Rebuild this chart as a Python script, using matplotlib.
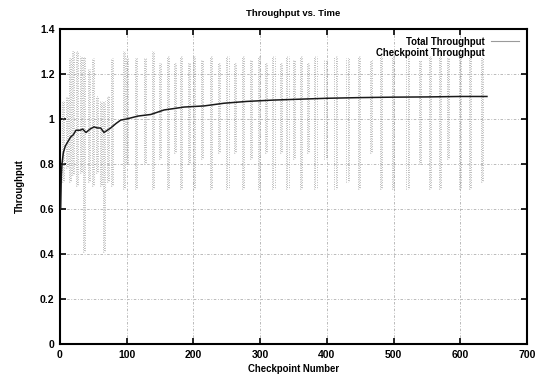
import matplotlib
matplotlib.use("Agg")
import matplotlib.pyplot as plt
from matplotlib.lines import Line2D

plt.rcParams['font.family'] = ['Liberation Sans', 'DejaVu Sans']

# Total throughput (running average)
total_x = [1, 2, 3, 5, 8, 12, 16, 20, 24, 30, 34, 39, 45, 51, 56, 61, 66, 71, 76, 84, 91, 100,
           117, 136, 156, 186, 216, 246, 280, 320, 360, 400, 450, 500, 550, 600, 640]
total_y = [0.60, 0.75, 0.80, 0.85, 0.88, 0.90, 0.92, 0.93, 0.95, 0.95, 0.955, 0.94, 0.955, 0.965,
           0.96, 0.96, 0.94, 0.95, 0.96, 0.98, 0.995, 1.00, 1.013, 1.02, 1.04, 1.053, 1.058, 1.07,
           1.078, 1.084, 1.088, 1.092, 1.095, 1.097, 1.098, 1.10, 1.10]

# Checkpoint throughput: vertical spread of per-checkpoint samples
stripe_x = [5, 10, 15, 20, 26, 31, 36, 43, 49, 56, 61, 66, 72, 78, 96, 101, 114, 128, 139, 150,
            162, 172, 181, 193, 201, 213, 226, 238, 251, 262, 274, 286, 298, 309, 320, 331, 341,
            351, 361, 372, 383, 398, 413, 431, 448, 466, 481, 499, 521, 540, 555, 570, 581, 600,
            615, 633]
stripe_lo = [0.72, 0.78, 0.72, 0.75, 0.70, 0.76, 0.41, 0.72, 0.70, 0.76, 0.70, 0.41, 0.72, 0.70,
             0.69, 0.80, 0.69, 0.80, 0.69, 0.82, 0.69, 0.85, 0.69, 0.80, 0.69, 0.82, 0.69, 0.85,
             0.69, 0.85, 0.69, 0.82, 0.69, 0.85, 0.69, 0.85, 0.69, 0.82, 0.69, 0.85, 0.69, 0.82,
             0.69, 0.72, 0.69, 0.85, 0.69, 0.69, 0.69, 0.80, 0.69, 0.69, 0.82, 0.69, 0.69, 0.72]
stripe_hi = [1.08, 1.10, 1.27, 1.30, 1.30, 1.28, 1.28, 1.22, 1.27, 1.10, 1.08, 1.08, 1.10, 1.27,
             1.30, 1.27, 1.27, 1.27, 1.30, 1.25, 1.28, 1.25, 1.28, 1.25, 1.28, 1.26, 1.28, 1.25,
             1.28, 1.25, 1.28, 1.26, 1.28, 1.25, 1.28, 1.25, 1.28, 1.26, 1.28, 1.25, 1.28, 1.26,
             1.28, 1.27, 1.28, 1.26, 1.28, 1.28, 1.28, 1.26, 1.28, 1.28, 1.27, 1.28, 1.28, 1.27]

x_ticks = [0, 100, 200, 300, 400, 500, 600, 700]
y_ticks = [0, 0.2, 0.4, 0.6, 0.8, 1, 1.2, 1.4]
y_tick_labels = ['0', '0.2', '0.4', '0.6', '0.8', '1', '1.2', '1.4']

fig = plt.figure(figsize=(5.38, 3.81), dpi=100)
ax = fig.add_axes([0.1115, 0.097, 0.868, 0.827])

ax.set_xlim(0, 700)
ax.set_ylim(0, 1.4)
ax.set_xticks(x_ticks)
ax.set_yticks(y_ticks)
ax.set_yticklabels(y_tick_labels)

ax.grid(True, color='#b0b0b0', linestyle=(0, (3, 2, 1, 2)), linewidth=0.6)
ax.set_axisbelow(True)

# each checkpoint stripe is drawn as a few thin dotted columns
for off, dash in [(-1.6, (0, (0.8, 1.6))), (0.0, (0.6, (0.8, 1.4))), (1.6, (1.2, (0.8, 1.8)))]:
    ax.vlines([v + off for v in stripe_x], stripe_lo, stripe_hi, colors='#949494',
              linestyles=[dash], linewidth=0.7, alpha=0.8, zorder=2)
ax.plot(total_x, total_y, color='#1a1a1a', linewidth=1.1, zorder=3)

handles = [Line2D([], [], color='#9a9a9a', linewidth=0.8),
           Line2D([], [], color='none')]
leg = ax.legend(handles, ['Total Throughput', 'Checkpoint Throughput'],
                loc='upper right', markerfirst=False, frameon=False,
                prop={'size': 6.9, 'weight': 'bold'}, handlelength=3,
                borderaxespad=0.4, labelspacing=0.1, handletextpad=0.6)

for s in ax.spines.values():
    s.set_linewidth(1.5)
ax.tick_params(direction='in', length=4, width=1.2, top=True, right=True,
               labelsize=7.5, pad=4)
for lab in ax.get_xticklabels() + ax.get_yticklabels():
    lab.set_fontweight('bold')

ax.set_title('Throughput vs. Time', fontsize=6.8, fontweight='bold', pad=9)
ax.set_xlabel('Checkpoint Number', fontsize=6.9, fontweight='bold', labelpad=3)
ax.set_ylabel('Throughput', fontsize=6.9, fontweight='bold', labelpad=11)

fig.savefig('out.png', dpi=100, facecolor='white')
